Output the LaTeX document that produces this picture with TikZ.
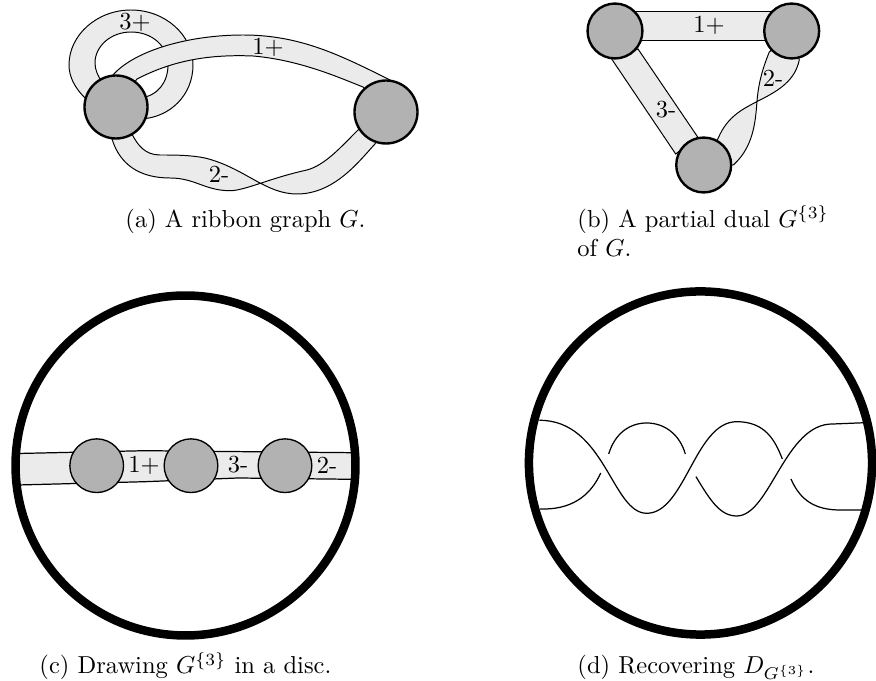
\documentclass[tikz,border=0pt]{standalone}
\usepackage{amsmath,amssymb}
\usepackage{xcolor}
\usetikzlibrary{calc}
\definecolor{ribbonfill}{HTML}{EBEBEB}
\definecolor{vertexfill}{HTML}{B2B2B2}
\tikzset{
  ribbon/.style={draw=black,line width=0.4pt,fill=ribbonfill},
  vertex/.style={circle,draw=black,line width=0.97pt,fill=vertexfill,minimum size=25.7pt,inner sep=0pt},
  midvertex/.style={vertex,minimum size=22.4pt},
  smallvertex/.style={vertex,line width=0.55pt,minimum size=21.9pt},
  bigdisc/.style={circle,draw=black,line width=3.47pt,minimum size=138.7pt,inner sep=0pt},
  strand/.style={line width=0.5pt},
  lab/.style={inner sep=0pt},
  captext/.style={anchor=base west,inner sep=0pt,align=left}
}
\begin{document}
\begin{tikzpicture}[x=0.408pt,y=-0.408pt]
\useasboundingbox (0,0) rectangle (876,681);
% panel a
\coordinate (a1) at (116,107); \coordinate (a2) at (386,112);
\draw[ribbon] (a1) -- (85,98) .. controls (75,88) and (69,77) .. (69,65) .. controls (69,35) and (97,10) .. (131,10) .. controls (165,10) and (193,35) .. (193,65) .. controls (193,95) and (170,118) .. (140,119)
  -- (a1) -- (140,98) .. controls (158,96) and (168,82) .. (168,65) .. controls (168,46) and (152,32) .. (131,32) .. controls (111,32) and (95,46) .. (95,63) .. controls (95,70) and (98,76) .. (102,82) -- cycle;
\draw[ribbon] (a1) -- (113,75) .. controls (135,50) and (190,35) .. (243,35) .. controls (300,35) and (340,55) .. (390,80) -- (a2)
  -- (363,87) .. controls (340,78) and (300,60) .. (253,56) .. controls (205,54) and (170,62) .. (137,79) -- cycle;
\draw[ribbon] (a1) -- (112,139) .. controls (120,165) and (140,178) .. (170,178) .. controls (195,178) and (205,190.7) .. (230,190.7) .. controls (245,190.7) and (270,178) .. (307,170) .. controls (325,165) and (340,148) .. (358,130) -- (a2)
  -- (375,144) .. controls (360,160) and (335,194) .. (297,194) .. controls (265,194) and (245,168) .. (205,158) .. controls (190,155) and (175,155) .. (160,155) .. controls (145,155) and (138,145) .. (133,136) -- cycle;
\node[vertex] (va1) at (a1) {};
\node[vertex] (va2) at (a2) {};
\node[lab] (l3p) at (135,22) {3+};
\node[lab] (l1p) at (268,47) {1+};
\node[lab] (l2m) at (219,174) {2-};
\node[captext] (capa) at (125,228) {(a) A ribbon graph $G$.};
% panel b
\coordinate (b1) at (615,31); \coordinate (b2) at (791.7,31); \coordinate (b3) at (703.7,165);
\draw[ribbon] ($(b1)+(0,-20)$) -- ($(b2)+(0,-20)$) -- ($(b2)+(0,9)$) -- ($(b1)+(0,9)$) -- cycle;
\draw[ribbon] ($(b1)+(-4,27)$) -- ($(b3)+(-28,-11)$) -- ($(b3)+(-6,-28)$) -- ($(b1)+(23,18)$) -- cycle;
\draw[ribbon] (b2) -- (769.3,52) .. controls (762,70) and (758,85) .. (756.7,105) .. controls (755,130) and (750,150) .. (733.3,165) -- (b3)
  -- (718.3,138) .. controls (728,115) and (745,108) .. (760,100) .. controls (780,90) and (795,80) .. (799.3,60) -- cycle;
\node[midvertex] (vb1) at (b1) {};
\node[midvertex] (vb2) at (b2) {};
\node[midvertex] (vb3) at (b3) {};
\node[lab] (m1p) at (709,25) {1+};
\node[lab] (m3m) at (666,110) {3-};
\node[lab] (m2m) at (773,78) {2-};
\node[captext] (capb) at (577,257) {(b) A partial dual $G^{\{3\}}$\\of $G$.};
% panel c
\coordinate (c1) at (96.7,465.7); \coordinate (c2) at (191,465.7); \coordinate (c3) at (285,465.7);
\draw[ribbon,line width=0.5pt] (18,453.5) -- (145,450.7) -- (352,452.7) -- (352,479.3) -- (238,478) -- (145,481.7) -- (18,485) -- cycle;
\node[bigdisc] (discc) at (185.5,465.5) {};
\node[smallvertex] (vc1) at (c1) {};
\node[smallvertex] (vc2) at (c2) {};
\node[smallvertex] (vc3) at (c3) {};
\node[lab] (n1p) at (144,465) {1+};
\node[lab] (n3m) at (238,465) {3-};
\node[lab] (n2m) at (327,465) {2-};
\node[captext] (capc) at (39,674) {(c) Drawing $G^{\{3\}}$ in a disc.};
% panel d
\node[bigdisc,minimum size=140pt] (discd) at (700.5,463) {};
\draw[strand] (539.3,420.3) .. controls (605,420) and (612,513.3) .. (646.7,513.3) .. controls (685,513.3) and (695,421.7) .. (736.7,421.7) .. controls (765,421.7) and (775,440) .. (782.3,459);
\draw[strand] (540,509) .. controls (570,510) and (590,497) .. (600.7,473);
\draw[strand] (608.7,454) .. controls (615,433) and (630,423) .. (646.7,423) .. controls (665,423) and (680,435) .. (685.3,454);
\draw[strand] (696,476.7) .. controls (710,500) and (720,516) .. (736.7,516) .. controls (770,516) and (785,423) .. (833,424) -- (865,422.7);
\draw[strand] (791,479) .. controls (800,500) and (815,510) .. (840,510) -- (863.3,510);
\node[captext] (capd) at (577,674) {(d) Recovering $D_{G^{\{3\}}}$.};
\end{tikzpicture}
\end{document}
